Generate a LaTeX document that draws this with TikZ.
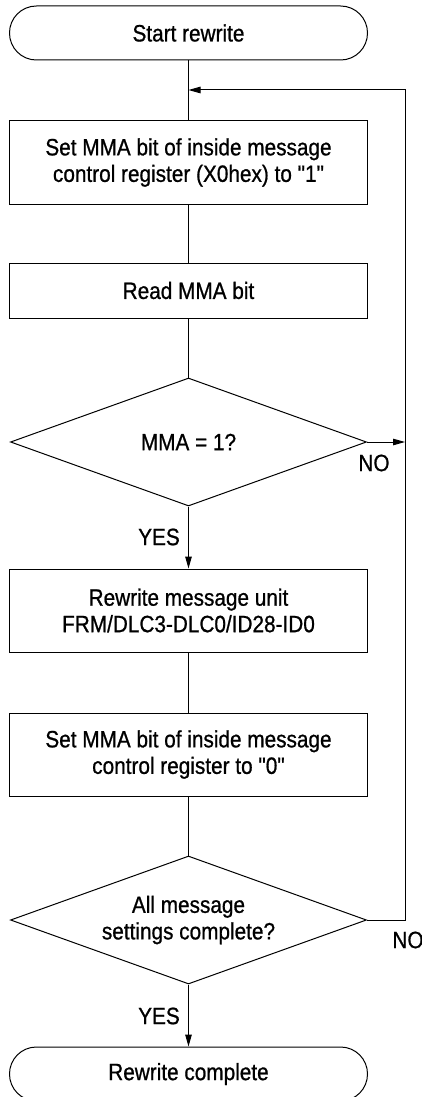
\documentclass[tikz,border=0pt]{standalone}
\usepackage{fontspec}
\newfontfamily\diafont{Liberation Sans}[FakeStretch=0.88, FakeBold=0.8]
\usetikzlibrary{shapes.geometric,arrows.meta}
\begin{document}
\begin{tikzpicture}[x=1pt,y=-1pt,
  every node/.style={font=\diafont\fontsize{23.6}{26.5}\selectfont, align=center},
  line/.style={line width=1pt},
  arr/.style={line width=1pt, -{Triangle[length=12pt,width=6.5pt]}},
  term/.style={draw, line width=1pt, rounded corners=26.9pt, minimum width=358pt, minimum height=54pt, inner sep=0pt},
  proc/.style={draw, line width=1pt, minimum width=358pt, inner sep=0pt},
  dec/.style={draw, line width=1pt, diamond, aspect=2.78, minimum width=356pt, minimum height=128pt, inner sep=0pt},
  lbl/.style={inner sep=0pt}]
\useasboundingbox (0,0) rectangle (422,1097);
\node[term] (start) at (188.5,33) {Start rewrite};
\node[proc, minimum height=83pt] (b1) at (188.5,162.5) {Set MMA bit of inside message\\control register (X0hex) to "1"};
\node[proc, minimum height=55pt] (b2) at (188.5,290.5) {Read MMA bit};
\node[dec] (d1) at (188.5,442) {MMA = 1?};
\node[proc, minimum height=83pt] (b3) at (188.5,610.5) {Rewrite message unit\\FRM/DLC3-DLC0/ID28-ID0};
\node[proc, minimum height=83pt] (b4) at (188.5,754.5) {Set MMA bit of inside message\\control register to "0"};
\node[dec] (d2) at (188.5,920) {All message\\settings complete?};
\node[term] (end) at (188.5,1074) {Rewrite complete};
\coordinate (c1) at (405,442);
\coordinate (c2) at (405,920);
\coordinate (c3) at (405,90);
\coordinate (c4) at (188.5,90);
\draw[line] (start.south) -- (b1.north);
\draw[line] (b1.south) -- (b2.north);
\draw[line] (b2.south) -- (d1.north);
\draw[arr] (d1.south) -- (b3.north);
\draw[line] (b3.south) -- (b4.north);
\draw[line] (b4.south) -- (d2.north);
\draw[arr] (d2.south) -- (end.north);
\draw[arr] (d1.east) -- (c1);
\draw[arr] (d2.east) -- (c2) -- (c3) -- (c4);
\node[lbl] (no1) at (374,463) {NO};
\node[lbl] (no2) at (408,940) {NO};
\node[lbl] (yes1) at (159,537) {YES};
\node[lbl] (yes2) at (159,1016) {YES};
\end{tikzpicture}
\end{document}
